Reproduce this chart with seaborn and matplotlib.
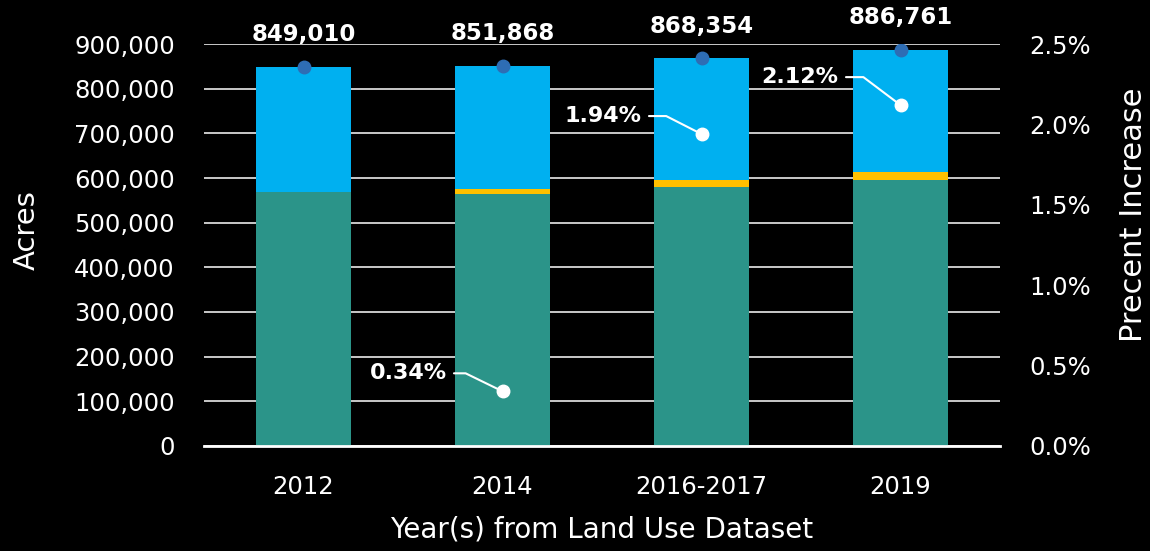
import matplotlib
matplotlib.use("Agg")
import matplotlib.pyplot as plt
import seaborn as sns
import numpy as np
from matplotlib.ticker import StrMethodFormatter, PercentFormatter

# Data
years = ["2012", "2014", "2016-2017", "2019"]
total_acres = [849010, 851868, 868354, 886761]
base_acres = [568000, 563500, 579500, 595500]
added_acres = [0, 11500, 15500, 18000]
pct_increase = [np.nan, 0.34, 1.94, 2.12]
pct_labels = ["", "0.34%", "1.94%", "2.12%"]

# Colours
teal = "#2B9489"
yellow = "#FFC000"
blue = "#00B0F0"
dot_blue = "#2E6DB4"

sns.set_theme(style="white")
plt.rcParams['font.family'] = ['DejaVu Sans']
plt.rcParams['text.color'] = 'white'

fig = plt.figure(figsize=(11.5, 5.51), dpi=100, facecolor='black')
ax = fig.add_axes([0.1774, 0.1906, 0.6922, 0.7295])
ax.set_facecolor('black')

x_pos = np.arange(len(years))
lower = np.array(base_acres)
middle = lower + np.array(added_acres)

# stacked bars drawn back to front (cumulative heights)
sns.barplot(x=x_pos, y=total_acres, color=blue, width=0.48, saturation=1,
            errorbar=None, linewidth=0, ax=ax)
sns.barplot(x=x_pos, y=middle, color=yellow, width=0.48, saturation=1,
            errorbar=None, linewidth=0, ax=ax)
sns.barplot(x=x_pos, y=lower, color=teal, width=0.48, saturation=1,
            errorbar=None, linewidth=0, ax=ax)

# total markers + labels
ax.plot(x_pos, total_acres, 'o', color=dot_blue, markersize=9, zorder=5)
for xi, val in zip(x_pos, total_acres):
    ax.annotate(f"{val:,}", xy=(xi, val), xytext=(0, 32), textcoords='offset pixels',
                ha='center', va='center', fontsize=16.5, fontweight='bold', color='white')

ax.set_xlim(-0.5, len(years) - 0.5)
ax.set_ylim(0, 900000)
ax.set_yticks(np.arange(0, 900001, 100000))
ax.yaxis.set_major_formatter(StrMethodFormatter('{x:,.0f}'))
ax.set_xticks(x_pos)
ax.set_xticklabels(years)
ax.grid(axis='y', color='#d9d9d9', linewidth=1.3)
ax.grid(axis='x', visible=False)
ax.set_axisbelow(True)
for side in ['top', 'left', 'right']:
    ax.spines[side].set_visible(False)
ax.spines['bottom'].set_color('white')
ax.spines['bottom'].set_linewidth(2)
ax.tick_params(axis='both', length=0, colors='white', labelsize=17.5)
ax.tick_params(axis='y', pad=21)
ax.tick_params(axis='x', pad=21)
ax.set_xlabel("Year(s) from Land Use Dataset", fontsize=20, color='white', labelpad=12)
ax.set_ylabel("Acres", fontsize=21, color='white', labelpad=24)
ax.yaxis.label.set_y(0.537)

# secondary axis: percent increase
ax2 = ax.twinx()
ax2.set_ylim(0, 0.025)
ax2.set_yticks(np.arange(0, 0.0251, 0.005))
ax2.yaxis.set_major_formatter(PercentFormatter(xmax=1, decimals=1))
ax2.tick_params(axis='y', length=0, colors='white', labelsize=17.5, pad=21)
for side in ax2.spines:
    ax2.spines[side].set_visible(False)
ax2.set_ylabel("Precent Increase", fontsize=22, color='white', labelpad=20)
ax2.yaxis.label.set_y(0.575)

pct_frac = np.array(pct_increase) / 100
ax2.plot(x_pos, pct_frac, 'o', color='white', markersize=9, linestyle='none', zorder=5)

label_offsets = [(0, 0), (-56, 18), (-60, 18), (-62, 28)]
leader_angles = [0, -26, -27, -37]
for xi, val, txt, off, ang in zip(x_pos, pct_frac, pct_labels, label_offsets, leader_angles):
    if not txt:
        continue
    ax2.annotate(txt, xy=(xi, val), xytext=off, textcoords='offset pixels',
                 ha='right', va='center', fontsize=16, fontweight='bold', color='white',
                 arrowprops=dict(arrowstyle='-', color='white', lw=1.5, relpos=(1, 0.5),
                                 shrinkA=3, shrinkB=0,
                                 connectionstyle=f"angle,angleA=0,angleB={ang},rad=0"))

fig.savefig("out.png", dpi=100, facecolor='black')
